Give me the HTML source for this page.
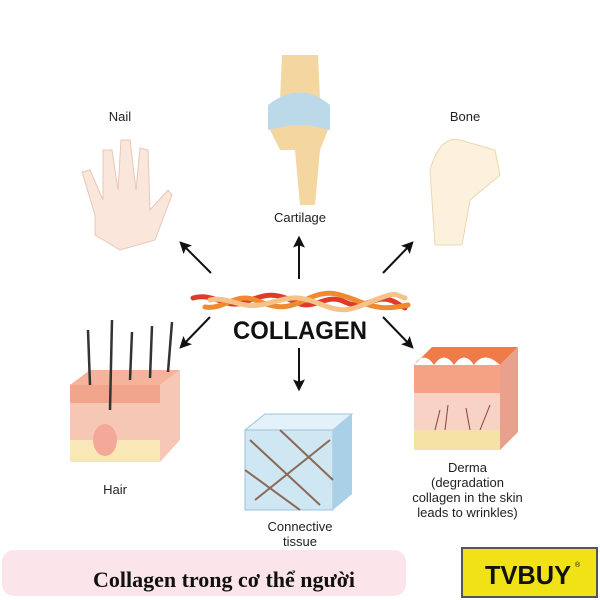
<!DOCTYPE html>
<html><head><meta charset="utf-8"><style>
body{margin:0;width:600px;height:600px;background:#fff;overflow:hidden;position:relative;font-family:"Liberation Sans",sans-serif}
.l{position:absolute;font-size:13px;color:#222;text-align:center;line-height:15px}
</style></head><body>
<svg width="600" height="600" style="position:absolute;left:0;top:0">
<defs>
<marker id="b" viewBox="0 0 10 10" markerWidth="12" markerHeight="12" refX="8" refY="5" orient="auto" markerUnits="userSpaceOnUse"><path d="M0,0L10,5L0,10L2,5z" fill="#111"/></marker></defs>
<g stroke="#111" stroke-width="2" marker-end="url(#b)">
<line x1="211" y1="273" x2="181" y2="243"/><line x1="299" y1="279" x2="299" y2="238"/>
<line x1="383" y1="273" x2="412" y2="243"/><line x1="210" y1="317" x2="181" y2="347"/>
<line x1="299" y1="348" x2="299" y2="389"/><line x1="383" y1="317" x2="412" y2="347"/></g>
<g fill="none" stroke-linecap="round" stroke-width="5">
<path d="M193,298 C215,292 225,310 245,302 S275,292 295,302 S325,292 345,302 S375,292 395,302 L405,308" stroke="#e23a2a"/>
<path d="M205,307 C225,310 235,292 255,300 S285,310 305,300 S335,292 355,300 S385,310 408,305" stroke="#f08a30"/>
<path d="M210,300 C230,296 240,310 265,304 S295,294 320,304 S350,310 375,300 S395,296 405,298" stroke="#f6c28a"/></g>
<text x="233" y="339" textLength="134" lengthAdjust="spacingAndGlyphs" font-family="Liberation Sans" font-weight="bold" font-size="25" fill="#111">COLLAGEN</text>
<path d="M95,235 L120,250 L155,240 L172,195 L168,190 L150,210 L148,150 L140,148 L136,190 L130,140 L121,140 L118,190 L112,150 L103,150 L103,200 L90,170 L82,172 L95,215z" fill="#fbe6dc" stroke="#e8c7b8"/>
<path d="M282,55 L318,55 L320,100 L280,100z" fill="#f3d6a0"/>
<path d="M268,105 Q300,80 330,105 L330,130 Q300,125 268,130z" fill="#bcd9ea"/>
<path d="M270,130 Q300,120 328,130 L320,150 L315,205 L300,205 L295,150 L280,150z" fill="#f3d6a0"/>
<path d="M435,245 L430,170 Q440,135 460,140 L495,150 L500,175 L470,200 L462,245z" fill="#fbf1dc" stroke="#e9d9b0"/>
<path d="M70,385 L160,385 L180,370 L180,440 L160,462 L70,462z" fill="#f6c7b5"/>
<rect x="70" y="385" width="90" height="18" fill="#f0a58c"/>
<path d="M70,385 L90,370 L180,370 L160,385z" fill="#f5b39c"/>
<rect x="70" y="440" width="90" height="22" fill="#f9e7b8"/>
<ellipse cx="105" cy="440" rx="12" ry="16" fill="#f4a89a"/>
<g stroke="#333" stroke-width="2.5"><line x1="90" y1="385" x2="88" y2="330"/><line x1="110" y1="410" x2="112" y2="320"/><line x1="130" y1="380" x2="132" y2="332"/><line x1="150" y1="378" x2="152" y2="326"/><line x1="168" y1="372" x2="172" y2="322"/></g>
<path d="M245,430 L333,430 L333,510 L245,510z" fill="#cfe6f3" stroke="#9cc3da"/>
<path d="M245,430 L265,414 L352,414 L333,430z" fill="#e2f1fa" stroke="#9cc3da"/>
<path d="M333,430 L352,414 L352,494 L333,510z" fill="#a9d0e6"/>
<g stroke="#8b6a55" stroke-width="2" fill="none"><path d="M250,440 L320,505"/><path d="M255,500 L330,440"/><path d="M245,470 L300,510"/><path d="M280,430 L333,480"/></g>
<path d="M414,365 L500,365 L500,450 L414,450z" fill="#f8d2c5"/>
<rect x="414" y="365" width="86" height="28" fill="#f4a184"/>
<path d="M414,365 Q424,350 434,365 Q444,350 454,365 Q464,350 474,365 Q484,350 500,365 L518,347 L432,347z" fill="#ee7b48"/>
<path d="M500,365 L518,347 L518,432 L500,450z" fill="#e9a08d"/>
<rect x="414" y="430" width="86" height="20" fill="#f7e2a5"/>
<g stroke="#8a3d40" stroke-width="1" fill="none"><path d="M435,430 L440,410 M445,430 L448,405 M470,430 L466,408 M480,430 L490,405"/></g>
<rect x="2" y="550" width="404" height="46" rx="12" fill="#fbe4ea"/>
<rect x="462" y="548" width="135" height="49" fill="#f1e218" stroke="#555" stroke-width="2"/>
<text x="485" y="584" textLength="86" lengthAdjust="spacingAndGlyphs" font-family="Liberation Sans" font-weight="bold" font-size="26" fill="#111">TVBUY</text>
<text x="575" y="567" font-size="7" fill="#111">®</text>
<text x="224" y="587" text-anchor="middle" font-family="Liberation Serif" font-weight="bold" font-size="22" fill="#111">Collagen trong cơ thể người</text>
</svg>
<div class="l" style="left:100px;top:109px;width:40px">Nail</div>
<div class="l" style="left:260px;top:210px;width:80px">Cartilage</div>
<div class="l" style="left:440px;top:109px;width:50px">Bone</div>
<div class="l" style="left:90px;top:482px;width:50px">Hair</div>
<div class="l" style="left:240px;top:519px;width:120px">Connective<br>tissue</div>
<div class="l" style="left:400px;top:460px;width:135px">Derma<br>(degradation<br>collagen in the skin<br>leads to wrinkles)</div>
</body></html>
